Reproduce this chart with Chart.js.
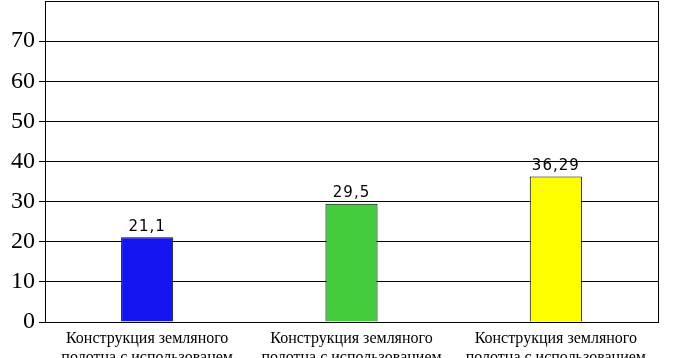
<!DOCTYPE html>
<html><head><meta charset="utf-8">
<script src="https://cdn.jsdelivr.net/npm/chart.js@4/dist/chart.umd.min.js"></script>
<style>html,body{margin:0;padding:0;background:#fff}#wrap{width:675px;height:358px}</style>
</head><body><div id="wrap"><canvas id="c" width="675" height="358"></canvas></div>
<script>
const categories = [
  ["Конструкция земляного", "полотна с использованем"],
  ["Конструкция земляного", "полотна с использованием"],
  ["Конструкция земляного", "полотна с использованием"]
];
const values = [21.1, 29.5, 36.29];
const valueLabels = ["21,1", "29,5", "36,29"];
const barColors = ["#1414f0", "#44cc3c", "#ffff00"];
const yTicks = [0, 10, 20, 30, 40, 50, 60, 70];

const framePlugin = {
  id: 'frame',
  afterDatasetsDraw(chart) {
    const {ctx, chartArea: a} = chart;
    ctx.save();
    ctx.strokeStyle = '#000';
    ctx.lineWidth = 1;
    ctx.strokeRect(Math.round(a.left) + 0.5, Math.round(a.top) + 0.5, Math.round(a.right - a.left), Math.round(a.bottom - a.top));
    const meta = chart.getDatasetMeta(0);
    ctx.fillStyle = '#000';
    ctx.font = '15px "DejaVu Sans", sans-serif';
    ctx.textAlign = 'center';
    ctx.textBaseline = 'bottom';
    ctx.letterSpacing = '1px';
    meta.data.forEach((el, i) => {
      ctx.fillText(valueLabels[i], el.x, el.y - 3);
    });
    ctx.restore();
  }
};

new Chart(document.getElementById('c'), {
  type: 'bar',
  data: {
    labels: categories,
    datasets: [{
      data: values,
      backgroundColor: barColors,
      borderColor: '#000',
      borderWidth: 1,
      barPercentage: 0.51,
      categoryPercentage: 0.5
    }]
  },
  options: {
    responsive: false,
    animation: false,
    layout: {padding: {top: 1, right: 17, left: 0, bottom: 0}},
    plugins: {legend: {display: false}, tooltip: {enabled: false}},
    scales: {
      x: {
        grid: {display: false},
        border: {display: true, color: '#000'},
        ticks: {
          color: '#000',
          font: {family: '"Liberation Serif", serif', size: 16, lineHeight: 1.15},
          maxRotation: 0, autoSkip: false, padding: 0
        },
        afterFit(s) { s.height = 36; s.paddingLeft = 0; s.paddingRight = 0; }
      },
      y: {
        min: 0, max: 80,
        afterBuildTicks(s) { s.ticks = yTicks.map(v => ({value: v})); },
        ticks: {
          color: '#000',
          font: {family: '"Liberation Serif", serif', size: 24},
          padding: 4
        },
        grid: {color: '#000', lineWidth: 1, tickLength: 6, drawTicks: true},
        border: {display: true, color: '#000'},
        afterFit(s) { s.width = 45; s.paddingTop = 0; s.paddingBottom = 0; }
      }
    }
  },
  plugins: [framePlugin]
});
</script></body></html>
